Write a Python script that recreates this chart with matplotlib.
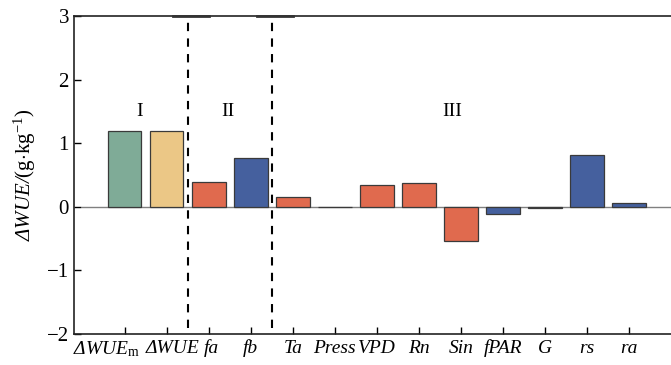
import matplotlib
matplotlib.use("Agg")
import matplotlib.pyplot as plt
from matplotlib.transforms import ScaledTranslation

labels = ["ΔWUE$_\\mathrm{m}$", "ΔWUE", "fa", "fb", "Ta", "Press", "VPD", "Rn",
          "Sin", "fPAR", "G", "rs", "ra"]
values = [1.19, 1.19, 0.39, 0.77, 0.16, -0.01, 0.35, 0.37, -0.53, -0.12, -0.02, 0.82, 0.06]
colors = ["#7fab97", "#ebc786", "#e06a4e", "#45609e", "#e06a4e", "#e06a4e", "#e06a4e",
          "#e06a4e", "#e06a4e", "#45609e", "#45609e", "#45609e", "#45609e"]
group_names = ["I", "II", "III"]
group_x = [0.35, 2.45, 7.8]
dividers = [1.5, 3.5]

plt.rcParams["font.family"] = "Liberation Serif"
plt.rcParams["mathtext.fontset"] = "custom"
plt.rcParams["mathtext.rm"] = "Liberation Serif"
plt.rcParams["mathtext.it"] = "Liberation Serif:italic"

def main() -> None:
    fig = plt.figure(figsize=(6.71, 3.65), dpi=100)
    ax = fig.add_axes([0.110, 0.085, 0.890, 0.871])
    x = range(len(values))
    ax.axhline(0, xmin=0.013, color="#808080", lw=1.0, zorder=1)
    ax.bar(x, values, width=0.8, color=colors, edgecolor="#3a3a3a", linewidth=0.9, zorder=2)
    for d in dividers:
        ax.plot([d, d], [-1.9, 3], color="black", lw=1.5, ls=(0, (4, 3.5)), zorder=3)
        ax.plot([d - 0.35, d + 0.5], [3, 3], color="#333333", lw=2.0, zorder=3, clip_on=False)
    for name, gx in zip(group_names, group_x):
        ax.text(gx, 1.5, name, ha="center", va="center", fontsize=14)
    ax.set_xlim(-1.21, 13.0)
    ax.set_ylim(-2, 3)
    ax.set_yticks([-2, -1, 0, 1, 2, 3])
    ax.set_yticklabels(["\u22122", "\u22121", "0", "1", "2", "3"])
    ax.set_xticks(list(x))
    ax.set_xticklabels(labels, fontstyle="italic")
    ax.tick_params(direction="in", length=5, width=1, labelsize=15)
    ax.tick_params(axis="x", labelsize=14, pad=4)
    # the first labels sit a little off their ticks in the original
    shifts = {0: -0.18, 1: 0.06, 2: 0.03}
    for i, lab in enumerate(ax.get_xticklabels()):
        if i in shifts:
            lab.set_transform(lab.get_transform() + ScaledTranslation(shifts[i], 0, fig.dpi_scale_trans))
    ax.spines["right"].set_visible(False)
    for s in ["left", "bottom", "top"]:
        ax.spines[s].set_linewidth(1.2)
        ax.spines[s].set_color("#222222")
    ax.set_ylabel("ΔWUE/$\\mathrm{(g{\\cdot}kg^{-1})}$", fontstyle="italic", fontsize=15, labelpad=6)
    fig.savefig("out.png", dpi=100)

if __name__ == "__main__":
    main()
